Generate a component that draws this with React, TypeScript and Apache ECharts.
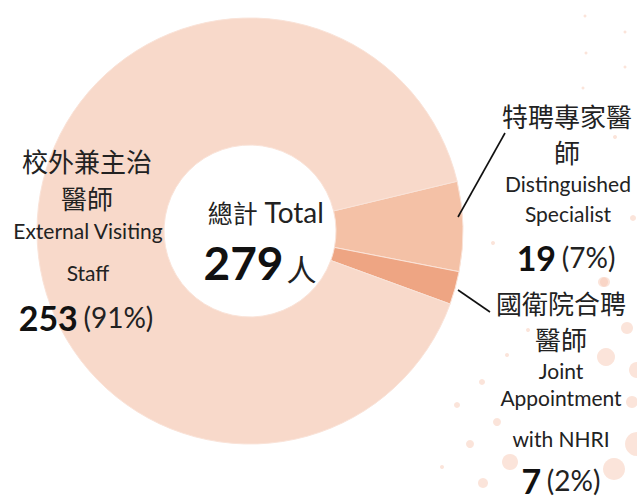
import React, { useEffect, useRef } from "react";
import * as echarts from "echarts";

const categoriesZh = ["特聘專家醫師", "國衛院合聘醫師", "校外兼主治醫師"];
const categoriesEn = ["Distinguished Specialist", "Joint Appointment with NHRI", "External Visiting Staff"];
const values = [19, 7, 253];
const percents = ["7%", "2%", "91%"];
const total = 279;
const sliceColors = ["#f4c1a6", "#eea583", "#f8d9ca"];

const dots: [number, number, number][] = [
  [605, 282, 5], [627, 328, 6], [606, 357, 9], [637, 370, 8], [482, 382, 3],
  [457, 405, 3], [497, 422, 4], [470, 444, 4], [510, 462, 8], [614, 469, 11],
  [637, 444, 12], [483, 483, 5], [528, 330, 2], [507, 355, 2], [442, 467, 2],
  [632, 402, 6], [633, 218, 3], [615, 137, 2], [493, 243, 2], [603, 282, 5],
  [585, 16, 1.5], [625, 32, 1.5], [586, 53, 1.5], [625, 67, 1.5], [583, 88, 1.5],
];

const CJK = '"Noto Sans CJK TC", "Noto Sans CJK SC", sans-serif';
const LAT = 'Lato, "Noto Sans CJK TC", sans-serif';

function txt(x: number, y: number, text: string, size: number, font: string, extra: any = {}) {
  return {
    type: "text",
    x,
    y,
    style: {
      text,
      fontSize: size,
      fontFamily: font,
      fill: "#222",
      align: "center",
      verticalAlign: "middle",
      ...extra,
    },
    z: 10,
  };
}

function numText(x: number, y: number, i: number) {
  return {
    type: "text",
    x,
    y,
    style: {
      text: `{b|${values[i]}}{s| }{n|(${percents[i]})}`,
      align: "center",
      verticalAlign: "middle",
      fill: "#111",
      rich: {
        b: { fontSize: 34, fontWeight: "bold", fontFamily: LAT, fill: "#111" },
        s: { fontSize: 22, fontFamily: LAT },
        n: { fontSize: 28, fontFamily: LAT, fill: "#222" },
      },
    },
    z: 10,
  };
}

export default function App() {
  const ref = useRef<HTMLDivElement>(null);
  useEffect(() => {
    if (!ref.current) return;
    const chart = echarts.init(ref.current, undefined, { renderer: "svg" });
    const graphics: any[] = [];
    dots.forEach(([x, y, r]) => {
      graphics.push({
        type: "circle",
        shape: { cx: x, cy: y, r },
        style: { fill: "#f6c4ad", opacity: 0.45 },
        z: 1,
      });
    });
    // center
    graphics.push({
      type: "text",
      x: 266,
      y: 212,
      style: {
        text: `{c|總計}{l| Total}`,
        align: "center",
        verticalAlign: "middle",
        rich: {
          c: { fontSize: 25, fontFamily: CJK, fill: "#222" },
          l: { fontSize: 28, fontFamily: LAT, fill: "#222" },
        },
      },
      z: 10,
    });
    graphics.push({
      type: "text",
      x: 260,
      y: 262,
      style: {
        text: `{b|${total}}{n|人}`,
        align: "center",
        verticalAlign: "middle",
        rich: {
          b: { fontSize: 46, fontWeight: "bold", fontFamily: LAT, fill: "#111" },
          n: { fontSize: 30, fontFamily: CJK, fill: "#222", padding: [12, 0, 0, 3] },
        },
      },
      z: 10,
    });
    // left label
    graphics.push(txt(87, 160, "校外兼主治", 26, CJK));
    graphics.push(txt(87, 197, "醫師", 26, CJK));
    graphics.push(txt(88, 230, "External Visiting", 21, LAT));
    graphics.push(txt(88, 272, "Staff", 21, LAT));
    graphics.push(numText(86, 317, 2));
    // right label 1
    graphics.push(txt(567, 115, "特聘專家醫", 26, CJK));
    graphics.push(txt(567, 151, "師", 26, CJK));
    graphics.push(txt(568, 183, "Distinguished", 21, LAT));
    graphics.push(txt(568, 213, "Specialist", 21, LAT));
    graphics.push(numText(566, 257, 0));
    // right label 2
    graphics.push(txt(561, 302, "國衛院合聘", 26, CJK));
    graphics.push(txt(561, 338, "醫師", 26, CJK));
    graphics.push(txt(561, 370, "Joint", 21, LAT));
    graphics.push(txt(561, 397, "Appointment", 21, LAT));
    graphics.push(txt(561, 438, "with NHRI", 21, LAT));
    graphics.push(numText(561, 480, 1));
    // leader lines
    graphics.push({
      type: "line",
      shape: { x1: 458, y1: 217, x2: 505, y2: 133 },
      style: { stroke: "#111", lineWidth: 1.6 },
      z: 10,
    });
    graphics.push({
      type: "line",
      shape: { x1: 458, y1: 290, x2: 490, y2: 312 },
      style: { stroke: "#111", lineWidth: 1.6 },
      z: 10,
    });

    chart.setOption({
      animation: false,
      backgroundColor: "#ffffff",
      series: [
        {
          type: "pie",
          center: [250, 231],
          radius: [86, 213],
          startAngle: 13.5,
          clockwise: true,
          label: { show: false },
          labelLine: { show: false },
          emphasis: { disabled: true },
          itemStyle: { borderColor: "#fae3d8", borderWidth: 1 },
          z: 2,
          data: values.map((v, i) => ({
            value: v,
            name: categoriesZh[i] + " " + categoriesEn[i],
            itemStyle: { color: sliceColors[i] },
          })),
        },
      ],
      graphic: graphics,
    });
    return () => chart.dispose();
  }, []);
  return (
    <div
      ref={ref}
      style={{ position: "absolute", left: 0, top: 0, width: 637, height: 499 }}
    />
  );
}
